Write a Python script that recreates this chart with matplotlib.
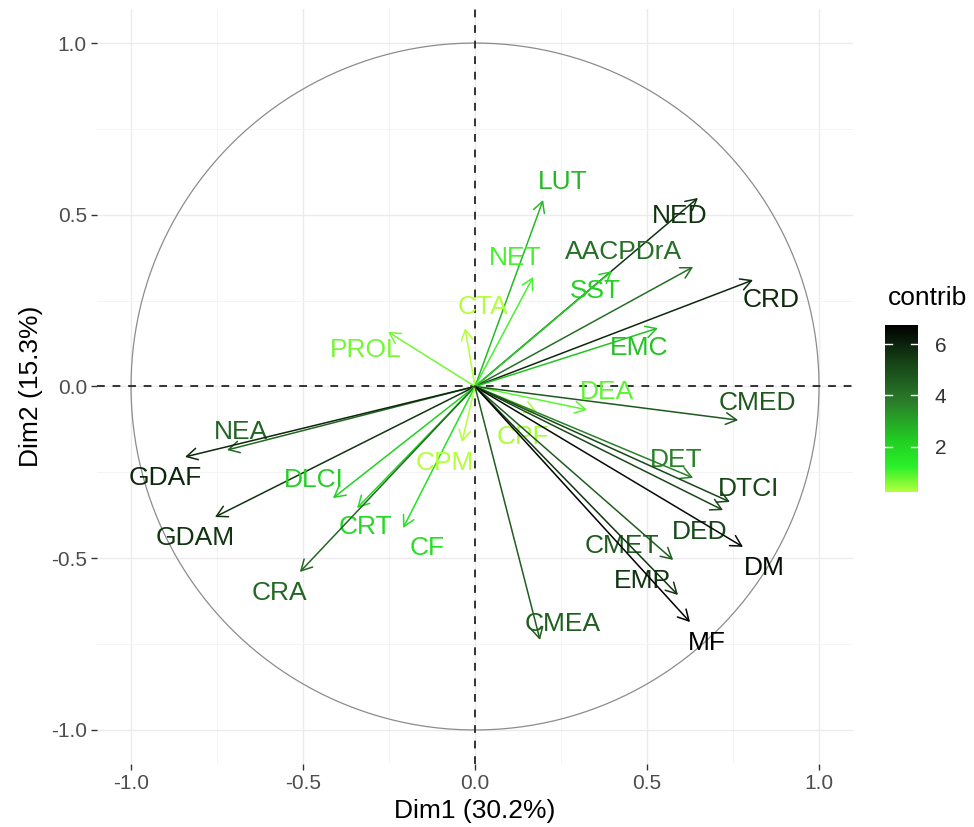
import matplotlib
matplotlib.use("Agg")
import matplotlib.pyplot as plt
import numpy as np
from matplotlib.colors import LinearSegmentedColormap, Normalize
from matplotlib.cm import ScalarMappable

plt.rcParams['font.family'] = ['Liberation Sans', 'DejaVu Sans']

# variable coordinates on Dim1 / Dim2 and their contribution
variables = ["LUT", "NED", "AACPDrA", "CRD", "EMC", "NET", "SST", "CTA", "PROL",
             "NEA", "GDAF", "GDAM", "DLCI", "CRT", "CRA", "CF", "CPM", "DEA",
             "CMED", "CPF", "DET", "DTCI", "DED", "DM", "CMET", "EMP", "MF", "CMEA"]
dim1 = [0.198, 0.648, 0.634, 0.808, 0.532, 0.169, 0.398, -0.029, -0.253,
        -0.721, -0.843, -0.756, -0.413, -0.343, -0.509, -0.209, -0.038, 0.326,
        0.765, 0.180, 0.634, 0.741, 0.721, 0.779, 0.576, 0.590, 0.625, 0.189]
dim2 = [0.543, 0.549, 0.348, 0.310, 0.170, 0.319, 0.336, 0.170, 0.159,
        -0.185, -0.205, -0.380, -0.325, -0.354, -0.540, -0.412, -0.162, -0.068,
        -0.098, -0.074, -0.266, -0.336, -0.360, -0.467, -0.505, -0.607, -0.686, -0.738]
contrib = [2.62, 5.66, 4.11, 5.88, 2.45, 1.02, 2.13, 0.23, 0.70,
           4.35, 5.91, 5.62, 2.17, 1.91, 4.32, 1.68, 0.22, 0.87,
           4.67, 0.30, 3.71, 5.20, 5.10, 6.48, 4.61, 5.62, 6.76, 4.56]

# label offsets from arrow tips in pixels (x right, y up)
label_offsets = {
    "LUT": (20, 18), "NED": (-18, -18), "AACPDrA": (-70, 15), "SST": (-17, -20),
    "NET": (-18, 19), "CTA": (18, 21), "CRD": (18, -20), "PROL": (-22, -18),
    "EMC": (-19, -20), "DEA": (20, 18), "CMED": (19, 17), "CPF": (-14, -25),
    "NEA": (14, 18), "GDAF": (-20, -21), "CPM": (-17, -21), "DLCI": (-19, 18),
    "DET": (-17, 18), "DTCI": (19, 13), "GDAM": (-20, -21), "CRT": (8, -19),
    "CF": (24, -20), "DED": (-23, -22), "CMET": (-51, 14), "DM": (21, -21),
    "CRA": (-20, -21), "EMP": (-36, 14), "CMEA": (23, 16), "MF": (17, -21),
}

cmap = LinearSegmentedColormap.from_list(
    "contrib", [(0.0, "#b4ff3c"), (0.15, "#2af02a"), (0.3, "#22d022"),
                (0.55, "#2a7a2a"), (0.8, "#143c14"), (1.0, "#000000")])
norm = Normalize(vmin=min(contrib), vmax=max(contrib))

fig = plt.figure(figsize=(9.74, 8.27), dpi=100)
ax = fig.add_axes([0.0992, 0.0758, 0.777, 0.9137])

ax.set_xlim(-1.1, 1.1)
ax.set_ylim(-1.1, 1.1)
ticks = [-1.0, -0.5, 0.0, 0.5, 1.0]
ax.set_xticks(ticks)
ax.set_yticks(ticks)
ax.set_xticklabels([f"{t:.1f}" for t in ticks])
ax.set_yticklabels([f"{t:.1f}" for t in ticks])
ax.set_xticks([-0.75, -0.25, 0.25, 0.75], minor=True)
ax.set_yticks([-0.75, -0.25, 0.25, 0.75], minor=True)
ax.grid(which="major", color="#ebebeb", lw=1.0)
ax.grid(which="minor", color="#f3f3f3", lw=0.6)
ax.set_axisbelow(True)
for s in ax.spines.values():
    s.set_visible(False)
ax.tick_params(which="major", length=4, width=1, color="#333333",
               labelsize=15, labelcolor="#4d4d4d", pad=3)
ax.tick_params(which="minor", length=0)

# correlation circle
theta = np.linspace(0, 2 * np.pi, 400)
ax.plot(np.cos(theta), np.sin(theta), color="#8c8c8c", lw=0.9)
ax.axhline(0, color="#333333", ls=(0, (4, 4)), lw=1.4)
ax.axvline(0, color="#333333", ls=(0, (4, 4)), lw=1.4)

for name, x, y, c in zip(variables, dim1, dim2, contrib):
    col = cmap(norm(c))
    ax.annotate("", xy=(x, y), xytext=(0, 0),
                arrowprops=dict(arrowstyle="->,head_length=0.55,head_width=0.3",
                                color=col, lw=1.1, shrinkA=0, shrinkB=0,
                                mutation_scale=14))
    dx, dy = label_offsets[name]
    ax.annotate(name, xy=(x, y), xytext=(dx, dy), textcoords="offset pixels",
                ha="center", va="center", fontsize=19, color=col)

ax.set_xlabel("Dim1 (30.2%)", fontsize=19, labelpad=4)
ax.set_ylabel("Dim2 (15.3%)", fontsize=19, labelpad=6)

# colour legend
cax = fig.add_axes([885 / 974, (827 - 492) / 827, 33 / 974, 167 / 827])
sm = ScalarMappable(norm=norm, cmap=cmap)
cb = fig.colorbar(sm, cax=cax, ticks=[2, 4, 6])
cb.outline.set_visible(False)
cb.ax.tick_params(length=0, labelsize=15, labelcolor="#333333", pad=12)
for t in [2, 4, 6]:
    cax.plot([0, 0.2], [t, t], color="white", lw=1, transform=cax.get_yaxis_transform())
    cax.plot([0.8, 1.0], [t, t], color="white", lw=1, transform=cax.get_yaxis_transform())
fig.text(888 / 974, 1 - 298 / 827, "contrib", fontsize=19, ha="left", va="center")

fig.savefig("out.png", dpi=100)
